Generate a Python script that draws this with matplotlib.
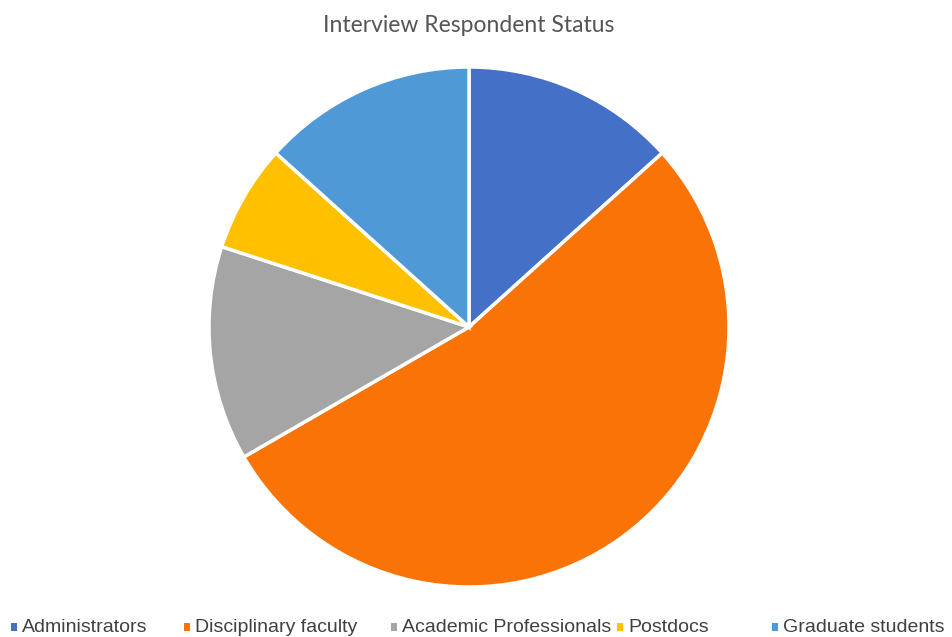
import matplotlib
matplotlib.use("Agg")
import matplotlib.pyplot as plt
from matplotlib.patches import Rectangle

categories = ["Administrators", "Disciplinary faculty", "Academic Professionals", "Postdocs", "Graduate students"]
counts = [2, 8, 2, 1, 2]
colors = ["#4570C8", "#F97306", "#A5A5A5", "#FFC000", "#5099D7"]

W, H = 952, 637
fig = plt.figure(figsize=(W / 100, H / 100), dpi=100)
fig.patch.set_facecolor("white")

cx, cy, r = 469, 327, 260
ax = fig.add_axes([(cx - r) / W, (H - cy - r) / H, 2 * r / W, 2 * r / H])
ax.pie(counts, colors=colors, startangle=90, counterclock=False,
       wedgeprops=dict(edgecolor="white", linewidth=2.5))
ax.set_xlim(-1, 1)
ax.set_ylim(-1, 1)
ax.set_aspect("auto")
ax.axis("off")

fig.text(469 / W, 1 - 25 / H, "Interview Respondent Status", ha="center", va="center",
         fontsize=16.5, color="#555555", family="Lato")

legend_x = [22, 195, 402, 628, 783]
ly = 1 - 627 / H
for x, lab, c in zip(legend_x, categories, colors):
    fig.patches.append(Rectangle(((x - 11) / W, ly - 4 / H), 6 / W, 8 / H,
                                 transform=fig.transFigure, facecolor=c, edgecolor="none"))
    fig.text(x / W, ly, lab, ha="left", va="center", fontsize=14,
             color="#404040", family="Liberation Sans")

fig.savefig("out.png", dpi=100, facecolor="white")
